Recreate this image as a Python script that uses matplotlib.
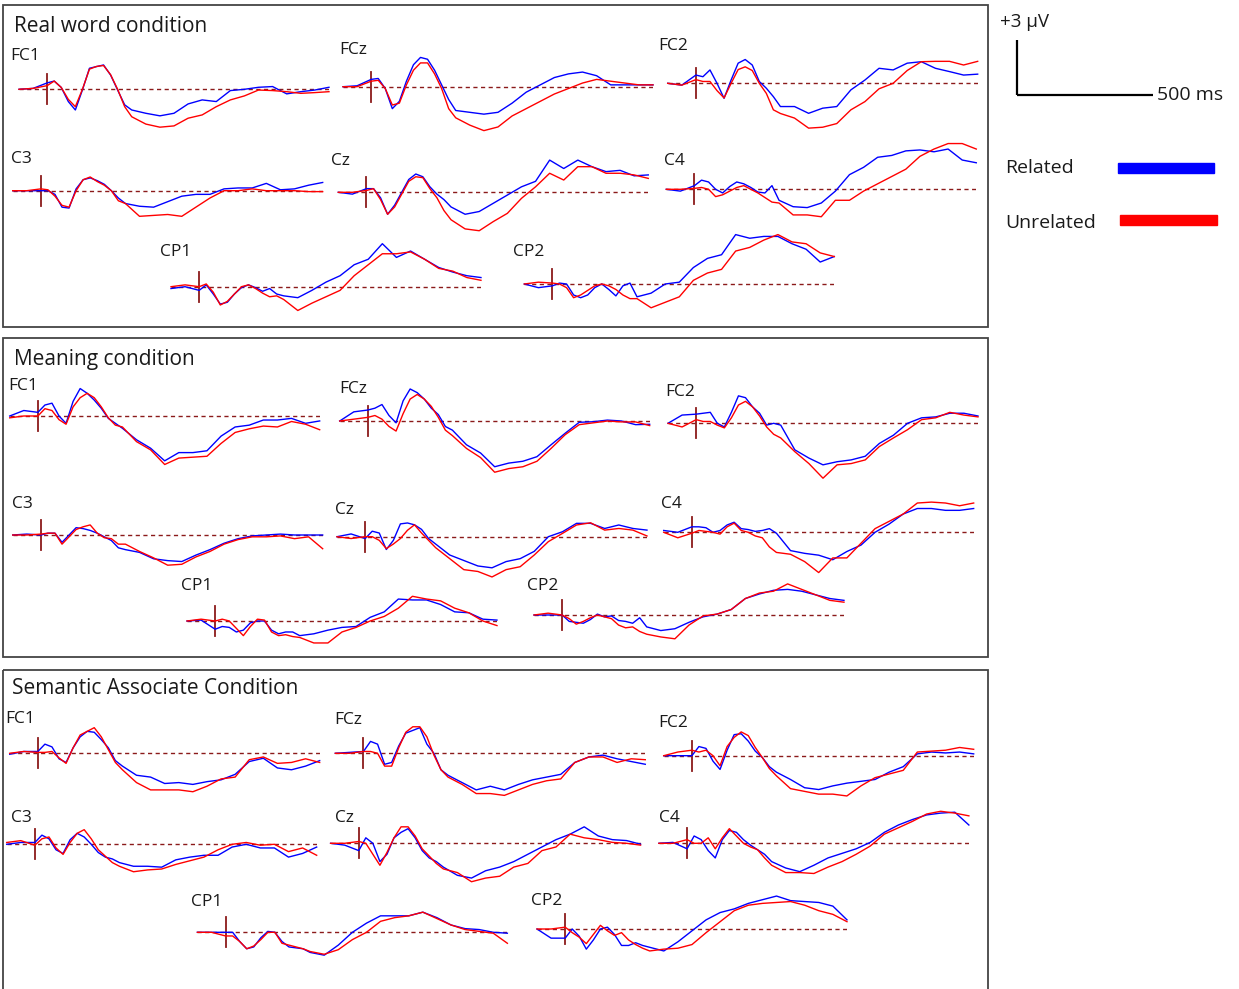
import matplotlib
matplotlib.use("Agg")
import matplotlib.pyplot as plt
from matplotlib.patches import Rectangle

# sample times (ms) shared by every waveform
times = [-100, -50, 0, 25, 50, 75, 100, 125, 150, 175, 200, 225, 250, 275, 300,
         350, 400, 450, 500, 550, 600, 650, 700, 750, 800, 850, 900, 950, 1000]

conditions = ["Real word condition", "Meaning condition", "Semantic Associate Condition"]
channels = ["FC1", "FCz", "FC2", "C3", "Cz", "C4", "CP1", "CP2"]

# ---- Real word condition (uV) ----
rw_fc1_rel = [0.0, 0.05, 0.35, 0.45, 0.1, -0.67, -1.13, -0.04, 1.15, 1.24, 1.33, 0.78, -0.04, -0.85, -1.13, -1.31, -1.45, -1.31, -0.8, -0.58, -0.67, -0.07, 0.0, 0.11, 0.15, -0.25, -0.13, -0.04, 0.11]
rw_fc1_unr = [0.0, 0.05, 0.2, 0.45, 0.1, -0.55, -0.95, 0.0, 1.1, 1.25, 1.3, 0.8, 0.0, -0.95, -1.5, -1.9, -2.07, -2.0, -1.58, -1.4, -0.95, -0.58, -0.36, -0.04, -0.07, -0.13, -0.22, -0.18, -0.13]
rw_fcz_rel = [0.0, 0.05, 0.4, 0.45, -0.1, -1.2, -0.8, 0.3, 1.2, 1.6, 1.5, 0.9, 0.1, -0.7, -1.3, -1.4, -1.5, -1.4, -0.9, -0.3, 0.1, 0.5, 0.7, 0.8, 0.6, 0.1, 0.1, 0.1, 0.1]
rw_fcz_unr = [0.0, 0.0, 0.3, 0.35, -0.1, -1.0, -0.9, 0.1, 0.9, 1.3, 1.3, 0.7, -0.1, -1.2, -1.7, -2.1, -2.4, -2.2, -1.6, -1.2, -0.8, -0.4, -0.1, 0.2, 0.4, 0.3, 0.2, 0.1, 0.1]
rw_fc2_rel = [0.0, -0.1, 0.45, 0.36, 0.73, 0.0, -0.82, 0.18, 1.1, 1.3, 1.0, 0.1, -0.27, -0.73, -1.27, -1.27, -1.64, -1.36, -1.27, -0.36, 0.18, 0.82, 0.73, 1.1, 1.18, 0.82, 0.64, 0.45, 0.5]
rw_fc2_unr = [0.0, -0.1, 0.2, 0.1, 0.1, -0.4, -0.8, 0.0, 0.75, 0.9, 0.7, 0.0, -0.55, -1.45, -1.65, -1.9, -2.45, -2.4, -2.2, -1.45, -1.0, -0.3, 0.0, 0.7, 1.18, 1.2, 1.2, 1.0, 1.2]
rw_c3_rel = [0.0, 0.0, 0.0, 0.0, -0.2, -0.9, -0.95, 0.1, 0.6, 0.7, 0.55, 0.35, 0.0, -0.4, -0.7, -0.85, -0.9, -0.6, -0.3, -0.2, -0.2, 0.1, 0.15, 0.15, 0.4, 0.05, 0.1, 0.3, 0.45]
rw_c3_unr = [0.0, 0.0, 0.1, 0.05, -0.3, -0.8, -0.9, 0.0, 0.6, 0.75, 0.5, 0.3, 0.0, -0.55, -0.7, -1.4, -1.35, -1.3, -1.4, -0.9, -0.4, 0.0, 0.0, 0.1, 0.0, 0.0, 0.0, -0.05, -0.05]
rw_cz_rel = [0.0, -0.1, 0.2, 0.2, -0.3, -1.2, -0.7, 0.0, 0.7, 1.0, 0.85, 0.3, -0.1, -0.4, -0.8, -1.2, -1.05, -0.6, -0.15, 0.3, 0.6, 1.76, 1.3, 1.76, 1.4, 1.13, 1.2, 0.9, 0.95]
rw_cz_unr = [0.0, 0.0, 0.1, 0.2, -0.4, -1.2, -0.8, -0.1, 0.6, 0.85, 0.8, 0.2, -0.3, -1.0, -1.5, -2.0, -2.1, -1.6, -1.15, -0.33, 0.3, 1.04, 0.67, 1.4, 1.4, 1.04, 1.04, 0.95, 0.76]
rw_c4_rel = [0.0, -0.1, 0.2, 0.5, 0.4, 0.0, -0.2, 0.15, 0.4, 0.3, 0.1, -0.15, -0.2, 0.2, -0.6, -0.95, -1.0, -0.75, -0.1, 0.8, 1.2, 1.75, 1.85, 2.1, 2.15, 2.05, 2.2, 1.6, 1.45]
rw_c4_unr = [0.0, 0.0, 0.05, 0.1, 0.0, -0.4, -0.3, -0.1, 0.1, 0.2, 0.0, -0.2, -0.45, -0.7, -0.75, -1.4, -1.4, -1.5, -0.6, -0.6, -0.1, 0.3, 0.7, 1.1, 1.8, 2.2, 2.5, 2.5, 2.2]
rw_cp1_rel = [-0.1, 0.0, -0.2, 0.1, -0.4, -0.95, -0.85, -0.4, -0.05, 0.1, -0.05, -0.25, -0.1, -0.4, -0.5, -0.6, -0.2, 0.25, 0.6, 1.2, 1.5, 2.35, 1.6, 1.95, 1.5, 1.05, 0.8, 0.6, 0.5]
rw_cp1_unr = [0.0, 0.1, 0.0, 0.15, -0.3, -1.0, -0.8, -0.4, 0.0, 0.1, -0.1, -0.35, -0.55, -0.5, -0.7, -1.3, -0.9, -0.55, -0.2, 0.6, 1.2, 1.8, 1.8, 1.9, 1.5, 1.0, 0.85, 0.5, 0.35]
rw_cp2_rel = [0.0, -0.2, -0.1, 0.05, 0.0, -0.6, -0.75, -0.6, -0.2, 0.0, -0.3, -0.65, -0.1, 0.05, -0.7, -0.5, 0.0, 0.1, 0.9, 1.4, 1.6, 2.7, 2.5, 2.6, 2.6, 2.2, 1.9, 1.2, 1.5]
rw_cp2_unr = [0.0, 0.1, 0.05, 0.0, -0.2, -0.75, -0.6, -0.35, -0.1, 0.0, -0.1, -0.3, -0.6, -0.8, -0.8, -1.3, -1.0, -0.7, 0.2, 0.6, 0.8, 1.8, 2.0, 2.4, 2.7, 2.3, 2.2, 1.7, 1.5]

# ---- Meaning condition (uV) ----
mn_fc1_rel = [0.0, 0.3, 0.2, 0.6, 0.7, 0.0, -0.4, 0.8, 1.5, 1.24, 0.87, 0.42, -0.13, -0.4, -0.67, -1.3, -1.76, -2.45, -2.0, -2.0, -1.9, -1.1, -0.6, -0.5, -0.22, -0.22, -0.13, -0.4, -0.27]
mn_fc1_unr = [-0.1, 0.0, 0.0, 0.4, 0.3, -0.2, -0.45, 0.5, 1.0, 1.24, 1.0, 0.5, -0.1, -0.5, -0.6, -1.4, -1.85, -2.65, -2.3, -2.25, -2.2, -1.5, -0.9, -0.7, -0.55, -0.6, -0.3, -0.45, -0.75]
mn_fcz_rel = [0.0, 0.5, 0.6, 0.7, 0.9, 0.3, -0.1, 1.1, 1.75, 1.55, 1.2, 0.7, 0.35, -0.3, -0.5, -1.3, -1.75, -2.5, -2.3, -2.2, -1.95, -1.3, -0.67, -0.07, -0.04, 0.05, 0.0, -0.2, -0.18]
mn_fcz_unr = [0.0, 0.1, 0.2, 0.3, 0.1, -0.3, -0.55, 0.4, 1.2, 1.45, 1.2, 0.8, 0.2, -0.5, -0.8, -1.5, -2.0, -2.8, -2.6, -2.5, -2.2, -1.5, -0.75, -0.2, -0.1, 0.0, -0.05, -0.05, -0.25]
mn_fc2_rel = [0.0, 0.45, 0.5, 0.55, 0.6, 0.0, -0.2, 0.6, 1.5, 1.4, 0.9, 0.55, -0.1, 0.0, -0.1, -1.45, -1.9, -2.27, -2.1, -2.0, -1.8, -1.1, -0.65, 0.0, 0.3, 0.35, 0.55, 0.55, 0.4]
mn_fc2_unr = [0.0, -0.2, 0.2, 0.1, 0.1, -0.1, -0.25, 0.3, 1.0, 1.2, 0.9, 0.4, -0.2, -0.6, -0.8, -1.55, -2.2, -3.0, -2.27, -2.2, -2.0, -1.27, -0.8, -0.35, 0.2, 0.3, 0.6, 0.45, 0.35]
mn_c3_rel = [0.0, 0.05, 0.0, 0.1, 0.1, -0.4, 0.0, 0.4, 0.35, 0.25, 0.1, -0.1, -0.3, -0.7, -0.8, -0.95, -1.3, -1.4, -1.45, -1.1, -0.8, -0.45, -0.2, -0.05, 0.0, 0.05, 0.0, 0.0, 0.0]
mn_c3_unr = [0.0, 0.0, 0.05, 0.1, 0.1, -0.5, -0.1, 0.3, 0.45, 0.55, 0.1, -0.15, -0.2, -0.5, -0.5, -0.9, -1.25, -1.65, -1.6, -1.2, -0.9, -0.5, -0.25, -0.1, -0.1, -0.05, -0.2, -0.1, -0.75]
mn_cz_rel = [0.0, 0.15, -0.1, 0.3, 0.2, -0.7, -0.2, 0.7, 0.75, 0.65, 0.4, -0.1, -0.4, -0.7, -1.0, -1.3, -1.6, -1.7, -1.36, -1.2, -0.8, 0.0, 0.27, 0.73, 0.73, 0.45, 0.64, 0.45, 0.36]
mn_cz_unr = [0.0, -0.1, 0.0, 0.0, -0.2, -0.65, -0.4, -0.1, 0.35, 0.65, 0.2, -0.2, -0.6, -0.9, -1.2, -1.8, -1.9, -2.2, -1.8, -1.64, -1.0, -0.27, 0.18, 0.64, 0.76, 0.36, 0.45, 0.36, 0.04]
mn_c4_rel = [0.1, 0.0, 0.3, 0.3, 0.25, 0.0, 0.1, 0.4, 0.55, 0.2, 0.15, 0.05, 0.1, 0.2, -0.05, -1.0, -1.15, -1.25, -1.5, -1.05, -0.7, 0.0, 0.45, 1.0, 1.3, 1.3, 1.2, 1.2, 1.3]
mn_c4_unr = [0.0, -0.3, -0.05, 0.1, 0.05, 0.0, -0.1, 0.3, 0.5, 0.1, 0.0, -0.2, -0.3, -0.8, -1.1, -1.2, -1.6, -2.2, -1.4, -1.4, -0.6, 0.2, 0.6, 1.0, 1.6, 1.65, 1.6, 1.45, 1.6]
mn_cp1_rel = [0.0, 0.05, -0.45, -0.3, -0.35, -0.6, -0.5, -0.1, 0.0, 0.0, -0.5, -0.7, -0.6, -0.6, -0.8, -0.7, -0.5, -0.35, -0.3, 0.2, 0.5, 1.2, 1.15, 1.15, 0.9, 0.5, 0.45, 0.1, 0.05]
mn_cp1_unr = [0.0, 0.1, 0.0, 0.1, 0.0, -0.4, -0.8, -0.3, 0.1, 0.05, -0.6, -0.8, -0.75, -0.85, -0.9, -1.2, -1.2, -0.6, -0.35, 0.0, 0.25, 0.7, 1.35, 1.2, 1.1, 0.7, 0.45, 0.0, -0.25]
mn_cp2_rel = [0.0, 0.0, 0.0, -0.35, -0.4, -0.45, -0.25, 0.05, -0.1, -0.05, -0.3, -0.35, -0.45, -0.15, -0.65, -0.85, -0.75, -0.4, -0.1, 0.05, 0.3, 0.9, 1.15, 1.35, 1.4, 1.3, 1.1, 0.9, 0.8]
mn_cp2_unr = [0.0, 0.1, 0.0, -0.2, -0.5, -0.35, -0.15, 0.0, -0.1, -0.2, -0.55, -0.7, -0.65, -0.9, -1.05, -1.2, -1.3, -0.55, -0.05, 0.05, 0.3, 0.9, 1.2, 1.3, 1.7, 1.4, 1.1, 0.8, 0.7]

# ---- Semantic associate condition (uV) ----
sa_fc1_rel = [-0.05, 0.1, 0.1, 0.5, 0.35, -0.3, -0.5, 0.3, 0.9, 1.2, 1.15, 0.75, 0.3, -0.4, -0.7, -1.2, -1.3, -1.65, -1.6, -1.7, -1.55, -1.45, -1.15, -0.45, -0.27, -0.8, -0.9, -0.7, -0.4]
sa_fc1_unr = [0.0, 0.1, 0.05, 0.05, 0.1, -0.25, -0.55, 0.3, 1.0, 1.2, 1.4, 0.9, 0.2, -0.5, -0.9, -1.6, -2.0, -2.0, -2.0, -2.1, -1.8, -1.4, -1.3, -0.35, -0.2, -0.55, -0.5, -0.3, -0.5]
sa_fcz_rel = [0.0, 0.05, 0.1, 0.65, 0.5, -0.6, -0.5, 0.4, 1.1, 1.25, 1.4, 0.5, 0.0, -0.9, -1.2, -1.6, -2.0, -1.8, -2.0, -1.7, -1.45, -1.3, -1.15, -0.5, -0.2, -0.1, -0.3, -0.45, -0.6]
sa_fcz_unr = [0.0, 0.0, 0.1, 0.1, 0.0, -0.7, -0.7, 0.3, 1.15, 1.45, 1.45, 0.9, -0.1, -0.9, -1.3, -1.7, -2.2, -2.2, -2.3, -2.0, -1.7, -1.5, -1.4, -0.5, -0.2, -0.2, -0.5, -0.3, -0.35]
sa_fc2_rel = [0.0, 0.0, 0.0, 0.5, 0.4, -0.3, -0.75, 0.3, 1.15, 1.2, 0.8, 0.25, -0.1, -0.6, -0.9, -1.3, -1.75, -1.85, -1.65, -1.5, -1.4, -1.3, -0.9, -0.6, 0.1, 0.2, 0.15, 0.2, 0.1]
sa_fc2_unr = [0.0, 0.2, 0.3, 0.2, 0.3, 0.0, -0.55, 0.5, 1.0, 1.3, 1.1, 0.45, -0.1, -0.7, -1.1, -1.8, -1.95, -2.1, -2.1, -2.2, -1.65, -1.2, -1.0, -0.8, 0.2, 0.25, 0.3, 0.45, 0.35]
sa_c3_rel = [0.0, 0.1, 0.1, 0.5, 0.3, -0.3, -0.5, 0.25, 0.6, 0.4, 0.0, -0.45, -0.7, -0.8, -1.0, -1.2, -1.2, -1.25, -0.85, -0.7, -0.6, -0.6, -0.15, 0.0, -0.2, -0.2, -0.7, -0.5, -0.15]
sa_c3_unr = [0.1, 0.2, -0.05, 0.3, 0.4, -0.2, -0.55, 0.1, 0.6, 0.8, 0.3, -0.3, -0.65, -1.0, -1.2, -1.5, -1.4, -1.35, -1.1, -0.9, -0.7, -0.3, 0.0, 0.1, -0.05, 0.0, -0.4, -0.2, -0.6]
sa_cz_rel = [0.0, -0.1, -0.4, 0.3, 0.0, -1.0, -0.6, 0.3, 0.6, 0.8, 0.3, -0.4, -0.8, -1.0, -1.3, -1.75, -1.9, -1.5, -1.3, -1.0, -0.6, -0.2, 0.2, 0.5, 0.9, 0.4, 0.2, 0.15, -0.05]
sa_cz_unr = [0.0, 0.0, 0.1, 0.0, -0.6, -1.2, -0.5, 0.3, 0.9, 0.9, 0.4, -0.3, -0.7, -1.1, -1.4, -1.6, -2.1, -1.9, -1.8, -1.3, -1.1, -0.4, -0.2, 0.5, 0.3, 0.2, 0.05, 0.0, -0.1]
sa_c4_rel = [0.0, 0.05, -0.3, 0.4, 0.2, -0.4, -0.8, 0.2, 0.7, 0.6, 0.2, -0.1, -0.35, -0.6, -1.0, -1.35, -1.55, -1.2, -0.8, -0.55, -0.3, 0.05, 0.6, 1.0, 1.3, 1.55, 1.65, 1.7, 1.0]
sa_c4_unr = [0.0, 0.0, 0.2, 0.0, 0.0, 0.3, -0.3, 0.3, 0.8, 0.4, 0.0, -0.2, -0.35, -0.8, -1.2, -1.6, -1.6, -1.65, -1.3, -1.0, -0.6, -0.15, 0.5, 0.85, 1.2, 1.6, 1.75, 1.65, 1.5]
sa_cp1_rel = [0.0, 0.0, 0.0, 0.0, -0.5, -0.9, -0.8, -0.3, 0.05, 0.0, -0.5, -0.8, -0.85, -0.9, -1.1, -1.25, -0.7, 0.0, 0.5, 0.9, 0.9, 0.9, 1.1, 0.8, 0.4, 0.2, 0.15, 0.0, -0.05]
sa_cp1_unr = [0.0, 0.0, -0.2, -0.2, -0.5, -0.9, -0.75, -0.4, 0.0, 0.0, -0.6, -0.7, -0.8, -0.9, -1.05, -1.2, -0.95, -0.4, 0.0, 0.6, 0.8, 0.9, 1.1, 0.75, 0.4, 0.15, 0.05, -0.05, -0.6]
sa_cp2_rel = [0.0, -0.5, -0.5, 0.0, -0.4, -1.1, -0.6, 0.0, 0.1, -0.3, -0.9, -0.9, -0.75, -0.9, -1.0, -1.2, -0.7, -0.1, 0.5, 0.9, 1.1, 1.4, 1.6, 1.8, 1.55, 1.5, 1.45, 1.25, 0.5]
sa_cp2_unr = [0.0, 0.0, 0.1, -0.2, -0.45, -0.8, -0.3, 0.2, -0.1, -0.35, -0.2, -0.6, -0.85, -1.05, -1.2, -1.1, -1.05, -0.85, -0.2, 0.4, 1.0, 1.3, 1.4, 1.45, 1.5, 1.3, 1.0, 0.8, 0.4]

data = {
    "Real word condition": {
        "FC1": (rw_fc1_rel, rw_fc1_unr), "FCz": (rw_fcz_rel, rw_fcz_unr), "FC2": (rw_fc2_rel, rw_fc2_unr),
        "C3": (rw_c3_rel, rw_c3_unr), "Cz": (rw_cz_rel, rw_cz_unr), "C4": (rw_c4_rel, rw_c4_unr),
        "CP1": (rw_cp1_rel, rw_cp1_unr), "CP2": (rw_cp2_rel, rw_cp2_unr)},
    "Meaning condition": {
        "FC1": (mn_fc1_rel, mn_fc1_unr), "FCz": (mn_fcz_rel, mn_fcz_unr), "FC2": (mn_fc2_rel, mn_fc2_unr),
        "C3": (mn_c3_rel, mn_c3_unr), "Cz": (mn_cz_rel, mn_cz_unr), "C4": (mn_c4_rel, mn_c4_unr),
        "CP1": (mn_cp1_rel, mn_cp1_unr), "CP2": (mn_cp2_rel, mn_cp2_unr)},
    "Semantic Associate Condition": {
        "FC1": (sa_fc1_rel, sa_fc1_unr), "FCz": (sa_fcz_rel, sa_fcz_unr), "FC2": (sa_fc2_rel, sa_fc2_unr),
        "C3": (sa_c3_rel, sa_c3_unr), "Cz": (sa_cz_rel, sa_cz_unr), "C4": (sa_c4_rel, sa_c4_unr),
        "CP1": (sa_cp1_rel, sa_cp1_unr), "CP2": (sa_cp2_rel, sa_cp2_unr)},
}

# ---- layout (pixels in the 1239x989 picture) ----
W, H = 1239, 989
PX_PER_MS = 0.2818
PX_PER_UV = 18.3
T0, T1 = -100, 1000
HALF = 70  # half height of each trace box in px

# panel boxes: left, top, right, bottom ; title position
panels = {
    "Real word condition": ((3, 5, 988, 327), (14, 27)),
    "Meaning condition": ((3, 338, 988, 657), (14, 360)),
    "Semantic Associate Condition": ((3, 670, 988, 995), (12, 689)),
}
# trace start x, baseline y, label x, label y
layout = {
    "Real word condition": {
        "FC1": (19, 89.3, 10, 56), "FCz": (343, 86.7, 339, 50), "FC2": (667.7, 83.3, 658, 46),
        "C3": (12.7, 190.7, 11, 159), "Cz": (338.3, 192.3, 331, 161), "C4": (666.3, 189.3, 664, 161),
        "CP1": (171, 286.7, 160, 252), "CP2": (524.3, 284, 513, 252)},
    "Meaning condition": {
        "FC1": (9.7, 416, 8, 386), "FCz": (339.7, 421, 339, 389), "FC2": (668, 423.3, 665, 392),
        "C3": (12.7, 535, 12, 504), "Cz": (337, 536.7, 335, 510), "C4": (663.7, 532.3, 661, 504),
        "CP1": (187, 621, 181, 586), "CP2": (534, 615, 527, 586)},
    "Semantic Associate Condition": {
        "FC1": (9.7, 753.3, 5, 719), "FCz": (335.3, 753.3, 334, 720), "FC2": (663.7, 755.7, 658, 723),
        "C3": (6.7, 844.3, 11, 818), "Cz": (330.6, 843.3, 335, 818), "C4": (658.9, 843.3, 659, 818),
        "CP1": (197.4, 932.3, 191, 902), "CP2": (537, 929, 531, 901)},
}

REL_COLOR = "#0000FF"
UNR_COLOR = "#FF0000"
BASE_COLOR = "#8B1A1A"
TXT_COLOR = "#1a1a1a"
FONT = ["Open Sans", "DejaVu Sans"]

fig = plt.figure(figsize=(W / 100, H / 100), dpi=100)
bg = fig.add_axes([0, 0, 1, 1])
bg.set_xlim(0, W)
bg.set_ylim(H, 0)
bg.axis("off")

for cond in conditions:
    (l, t, r, b), (tx, ty) = panels[cond]
    bg.add_patch(Rectangle((l, t), r - l, b - t, fill=False, edgecolor="#444444", lw=1.3))
    bg.text(tx, ty, cond, fontsize=15, family=FONT, color=TXT_COLOR, va="center", ha="left")
    for ch in channels:
        x0, y0, lx, ly = layout[cond][ch]
        rel, unr = data[cond][ch]
        width_px = (T1 - T0) * PX_PER_MS
        ax = fig.add_axes([x0 / W, (H - y0 - HALF) / H, width_px / W, 2 * HALF / H])
        ax.set_xlim(T0, T1)
        ax.set_ylim(-HALF / PX_PER_UV, HALF / PX_PER_UV)
        ax.axis("off")
        ax.axhline(0, color=BASE_COLOR, lw=1.0, ls=(0, (3, 2.5)))
        ax.axvline(0, ymin=0.5 - 15 / (2 * HALF), ymax=0.5 + 15 / (2 * HALF), color=BASE_COLOR, lw=1.3)
        ax.plot(times, rel, color=REL_COLOR, lw=1.0, clip_on=False)
        ax.plot(times, unr, color=UNR_COLOR, lw=1.0, clip_on=False)
        bg.text(lx, ly, ch, fontsize=12.5, family=FONT, color=TXT_COLOR, va="center", ha="left")

# scale bar: 3 uV by 500 ms
sb = fig.add_axes([1017 / W, (H - 95) / H, 136 / W, 55 / H])
sb.set_xlim(0, 500)
sb.set_ylim(0, 3)
sb.axis("off")
sb.plot([0, 500], [0, 0], color="black", lw=1.6, clip_on=False, solid_capstyle="butt")
sb.plot([0, 0], [0, 3], color="black", lw=1.6, clip_on=False, solid_capstyle="butt")
bg.text(1000, 22, "+3 \u00b5V", fontsize=13.5, family=FONT, color=TXT_COLOR, va="center", ha="left")
bg.text(1157, 95, "500 ms", fontsize=14, family=FONT, color=TXT_COLOR, va="center", ha="left")

# legend
bg.text(1005, 168, "Related", fontsize=14, family=FONT, color=TXT_COLOR, va="center", ha="left")
bg.add_patch(Rectangle((1118, 163), 96, 10, color=REL_COLOR))
bg.text(1005, 223, "Unrelated", fontsize=14, family=FONT, color=TXT_COLOR, va="center", ha="left")
bg.add_patch(Rectangle((1120, 215), 97, 10, color=UNR_COLOR))

fig.savefig("out.png", dpi=100)
